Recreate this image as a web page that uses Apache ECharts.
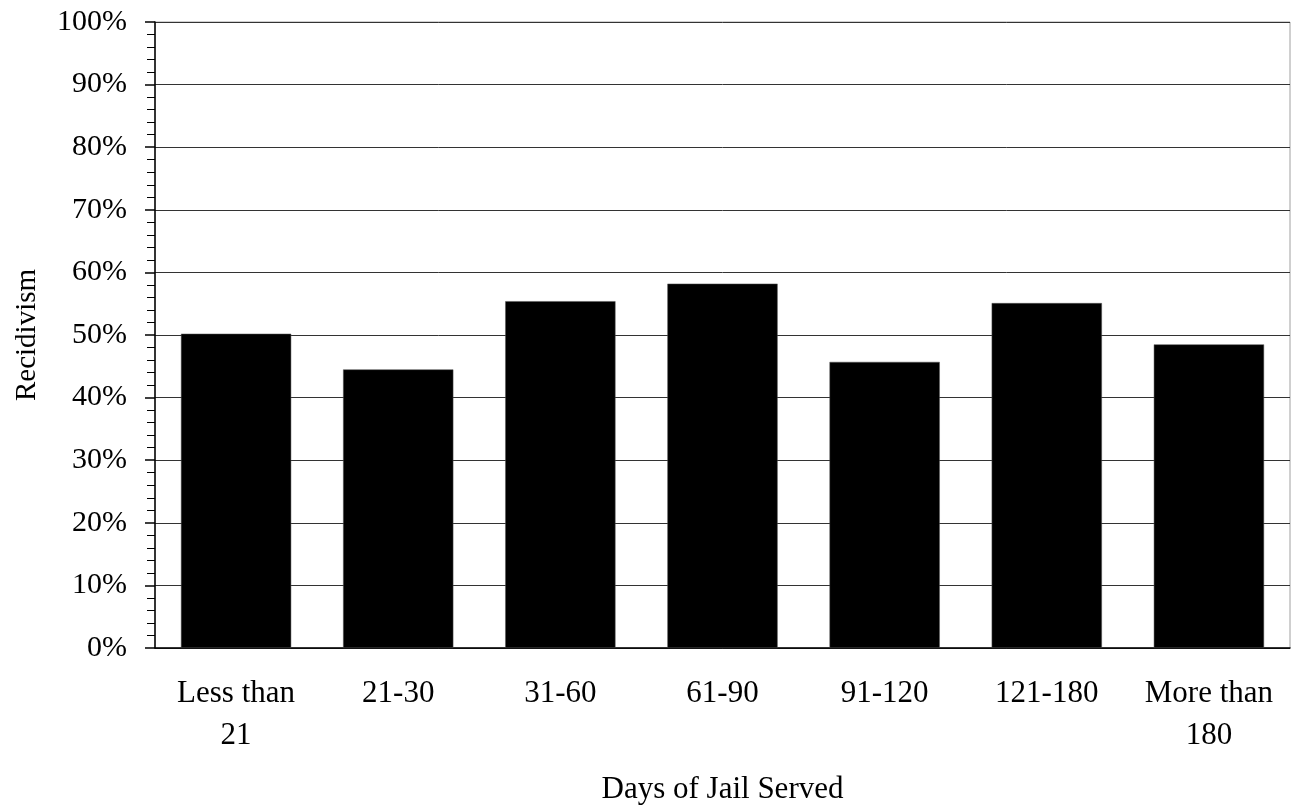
<!DOCTYPE html>
<html><head><meta charset="utf-8">
<script src="https://cdn.jsdelivr.net/npm/echarts@6/dist/echarts.min.js"></script>
<style>html,body{margin:0;padding:0;background:#fff}#c{width:1291px;height:810px}</style>
</head><body><div id="c"></div>
<script>
const categories = ['Less than\n21', '21-30', '31-60', '61-90', '91-120', '121-180', 'More than\n180'];
const recidivism = [50.2, 44.5, 55.4, 58.2, 45.7, 55.1, 48.5];
const yTicks = [0, 10, 20, 30, 40, 50, 60, 70, 80, 90, 100];

const font = '"Liberation Serif", "Times New Roman", serif';
const chart = echarts.init(document.getElementById('c'), null, {renderer: 'canvas'});
chart.setOption({
  animation: false,
  grid: {left: 155, right: 1, top: 22, bottom: 155, show: true, borderColor: '#a0a0a0', borderWidth: 1},
  xAxis: {
    type: 'category', data: categories,
    name: 'Days of Jail Served', nameLocation: 'middle', nameGap: 126,
    nameTextStyle: {fontFamily: font, fontSize: 31, color: '#000'},
    axisLine: {lineStyle: {color: '#000', width: 1.5}},
    axisTick: {show: false},
    axisLabel: {fontFamily: font, fontSize: 31, color: '#000', margin: 25, lineHeight: 42, interval: 0}
  },
  yAxis: {
    type: 'value', min: yTicks[0], max: yTicks[yTicks.length - 1], interval: 10,
    name: 'Recidivism', nameLocation: 'middle', nameGap: 113,
    nameTextStyle: {fontFamily: font, fontSize: 29, color: '#000'},
    axisLine: {show: true, lineStyle: {color: '#000', width: 1.5}},
    axisTick: {show: true, length: 10, lineStyle: {color: '#000', width: 1.5}},
    minorTick: {show: true, splitNumber: 5, length: 8, lineStyle: {color: '#000', width: 1}},
    axisLabel: {fontFamily: font, fontSize: 30, color: '#000', margin: 28, formatter: v => v + '%'},
    splitLine: {show: true, lineStyle: {color: '#333', width: 1}}
  },
  series: [{
    type: 'bar', data: recidivism, barWidth: '68%',
    itemStyle: {color: '#000', borderColor: '#555', borderWidth: 0.5}
  }]
});
</script></body></html>
